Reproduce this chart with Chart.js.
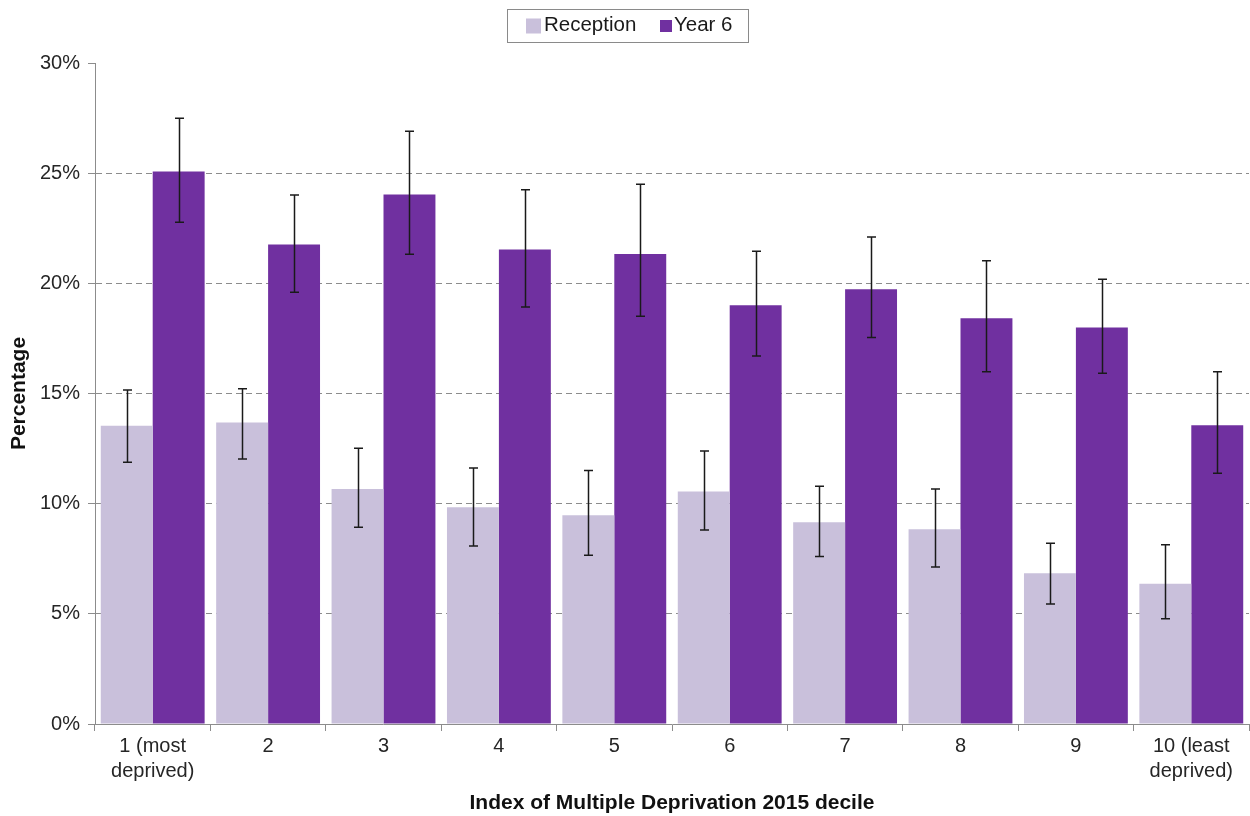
<!DOCTYPE html>
<html>
<head>
<meta charset="utf-8">
<title>Obesity prevalence by deprivation decile</title>
<script src="https://cdn.jsdelivr.net/npm/chart.js@4/dist/chart.umd.min.js"></script>
<style>
  html, body { margin: 0; padding: 0; background: #ffffff; }
  #wrap { width: 1250px; height: 816px; }
</style>
</head>
<body>
<div id="wrap"><canvas id="chart" width="1250" height="816"></canvas></div>
<script>
// Deprivation deciles (multi-line labels)
const deciles = [
  ['1 (most', 'deprived)'], '2', '3', '4', '5', '6', '7', '8', '9', ['10 (least', 'deprived)']
];

// Reception: percentage with 95% confidence limits
const reception     = [13.54, 13.68, 10.67, 9.84, 9.47, 10.55, 9.16, 8.84, 6.84, 6.37];
const receptionLow  = [11.88, 12.03, 8.93, 8.08, 7.66, 8.81, 7.60, 7.13, 5.45, 4.78];
const receptionHigh = [15.16, 15.22, 12.51, 11.62, 11.50, 12.39, 10.79, 10.67, 8.20, 8.14];

// Year 6: percentage with 95% confidence limits
const year6     = [25.07, 21.76, 24.03, 21.53, 21.33, 19.00, 19.73, 18.42, 17.99, 13.56];
const year6Low  = [22.77, 19.59, 21.32, 18.93, 18.51, 16.70, 17.54, 15.99, 15.92, 11.38];
const year6High = [27.49, 24.01, 26.90, 24.25, 24.50, 21.46, 22.10, 21.02, 20.19, 15.99];

// Y axis tick values
const yTicks = [0, 5, 10, 15, 20, 25, 30];

const FONT = "'Liberation Sans', Arial, sans-serif";
const GRID = '#8c8c8c';

// Confidence-interval whiskers drawn through the chart's own scales
const errorBars = {
  id: 'errorBars',
  afterDatasetsDraw(chart) {
    const ctx = chart.ctx;
    const yScale = chart.scales.y;
    chart.data.datasets.forEach((ds, di) => {
      const meta = chart.getDatasetMeta(di);
      meta.data.forEach((bar, i) => {
        const yl = yScale.getPixelForValue(ds.errLow[i]);
        const yh = yScale.getPixelForValue(ds.errHigh[i]);
        const x = Math.round(bar.x) + 0.5;
        const cap = 4.5;
        ctx.save();
        ctx.strokeStyle = '#1a1a1a';
        ctx.lineWidth = 1.5;
        ctx.beginPath();
        ctx.moveTo(x, yh); ctx.lineTo(x, yl);
        ctx.moveTo(x - cap, yh); ctx.lineTo(x + cap, yh);
        ctx.moveTo(x - cap, yl); ctx.lineTo(x + cap, yl);
        ctx.stroke();
        ctx.restore();
      });
    });
  }
};

// Boxed legend across the top
const boxedLegend = {
  id: 'boxedLegend',
  afterDraw(chart) {
    const ctx = chart.ctx;
    const ds = chart.data.datasets;
    ctx.save();
    ctx.strokeStyle = '#8a8a8a';
    ctx.lineWidth = 1;
    ctx.strokeRect(507.5, 9.5, 241, 33);
    ctx.font = '20.5px ' + FONT;
    ctx.textBaseline = 'middle';
    const items = [
      { sx: 526, size: 15, tx: 544 },
      { sx: 660, size: 12, tx: 674 }
    ];
    items.forEach((it, i) => {
      ctx.fillStyle = ds[i].backgroundColor;
      ctx.fillRect(it.sx, 26 - it.size / 2, it.size, it.size);
      ctx.fillStyle = '#1a1a1a';
      ctx.fillText(ds[i].label, it.tx, 25.5);
    });
    ctx.restore();
  }
};

new Chart(document.getElementById('chart'), {
  type: 'bar',
  data: {
    labels: deciles,
    datasets: [
      {
        label: 'Reception',
        data: reception,
        errLow: receptionLow,
        errHigh: receptionHigh,
        backgroundColor: '#c9c0db',
        categoryPercentage: 0.9,
        barPercentage: 1.0
      },
      {
        label: 'Year 6',
        data: year6,
        errLow: year6Low,
        errHigh: year6High,
        backgroundColor: '#7030a0',
        categoryPercentage: 0.9,
        barPercentage: 1.0
      }
    ]
  },
  options: {
    responsive: false,
    devicePixelRatio: 1,
    animation: false,
    layout: { padding: { top: 63, right: 1, left: 0, bottom: 0 } },
    plugins: {
      legend: { display: false },
      tooltip: { enabled: false },
      title: { display: false }
    },
    scales: {
      x: {
        afterFit(scale) { scale.height = 92; },
        grid: {
          display: true,
          drawOnChartArea: false,
          drawTicks: true,
          tickLength: 7,
          color: GRID,
          offset: true
        },
        border: { display: true, color: GRID, width: 1 },
        ticks: {
          color: '#262626',
          padding: 3,
          maxRotation: 0,
          autoSkip: false,
          font: { family: FONT, size: 20, lineHeight: 1.25 }
        },
        title: {
          display: true,
          text: 'Index of Multiple Deprivation 2015 decile',
          color: '#111111',
          padding: { top: 0, bottom: 0 },
          font: { family: FONT, size: 21, weight: 'bold' }
        }
      },
      y: {
        min: 0,
        max: 30,
        afterFit(scale) { scale.width = 95; },
        afterBuildTicks(scale) { scale.ticks = yTicks.map(v => ({ value: v })); },
        grid: {
          display: true,
          drawOnChartArea: true,
          drawTicks: true,
          tickLength: 7,
          color: (c) => (c.tick && (c.tick.value === 0 || c.tick.value === 30)) ? 'rgba(0,0,0,0)' : GRID,
          tickColor: GRID,
          tickBorderDash: []
        },
        border: { display: true, color: GRID, width: 1, dash: [6, 4] },
        ticks: {
          color: '#262626',
          padding: 8,
          font: { family: FONT, size: 20 },
          callback: (v) => v + '%'
        },
        title: {
          display: true,
          text: 'Percentage',
          color: '#111111',
          padding: { top: 7, bottom: 0 },
          font: { family: FONT, size: 21, weight: 'bold' }
        }
      }
    }
  },
  plugins: [errorBars, boxedLegend]
});
</script>
</body>
</html>
